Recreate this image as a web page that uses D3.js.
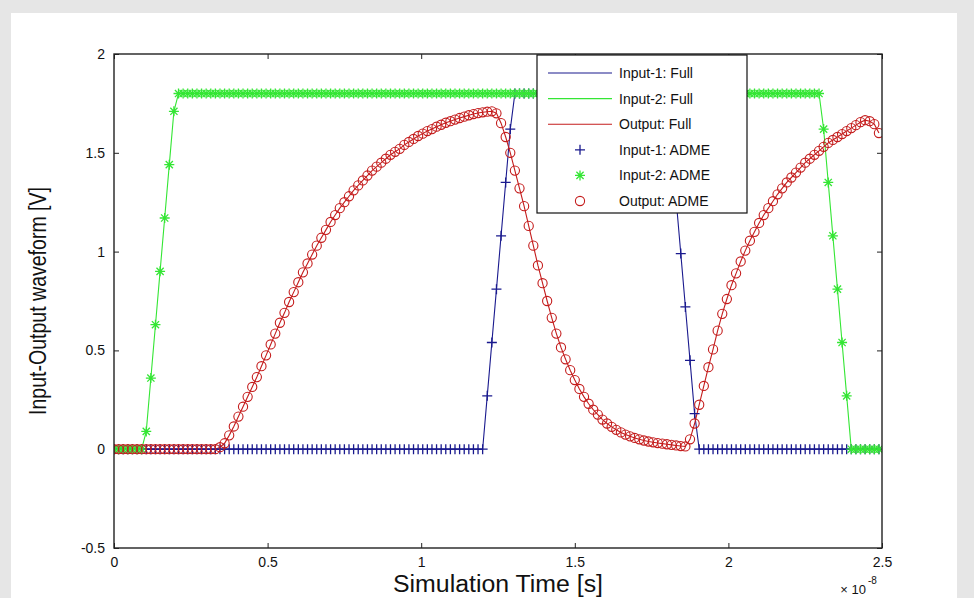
<!DOCTYPE html>
<html>
<head>
<meta charset="utf-8">
<script src="https://cdn.jsdelivr.net/npm/d3@7"></script>
<style>
  body { margin: 0; background: #e6e6e6; }
  svg { display: block; }
</style>
</head>
<body>
<svg id="chart" width="974" height="598"></svg>
<script>
// Simulation sample instants, in units of 1e-8 s
const timeSamples = [
  0, 0.015, 0.03, 0.045, 0.06, 0.075, 0.09, 0.105, 0.12, 0.135,
  0.15, 0.165, 0.18, 0.195, 0.21, 0.225, 0.24, 0.255, 0.27, 0.285,
  0.3, 0.315, 0.33, 0.345, 0.36, 0.375, 0.39, 0.405, 0.42, 0.435,
  0.45, 0.465, 0.48, 0.495, 0.51, 0.525, 0.54, 0.555, 0.57, 0.585,
  0.6, 0.615, 0.63, 0.645, 0.66, 0.675, 0.69, 0.705, 0.72, 0.735,
  0.75, 0.765, 0.78, 0.795, 0.81, 0.825, 0.84, 0.855, 0.87, 0.885,
  0.9, 0.915, 0.93, 0.945, 0.96, 0.975, 0.99, 1.005, 1.02, 1.035,
  1.05, 1.065, 1.08, 1.095, 1.11, 1.125, 1.14, 1.155, 1.17, 1.185,
  1.2, 1.215, 1.23, 1.245, 1.26, 1.275, 1.29, 1.305, 1.32, 1.335,
  1.35, 1.365, 1.38, 1.395, 1.41, 1.425, 1.44, 1.455, 1.47, 1.485,
  1.5, 1.515, 1.53, 1.545, 1.56, 1.575, 1.59, 1.605, 1.62, 1.635,
  1.65, 1.665, 1.68, 1.695, 1.71, 1.725, 1.74, 1.755, 1.77, 1.785,
  1.8, 1.815, 1.83, 1.845, 1.86, 1.875, 1.89, 1.905, 1.92, 1.935,
  1.95, 1.965, 1.98, 1.995, 2.01, 2.025, 2.04, 2.055, 2.07, 2.085,
  2.1, 2.115, 2.13, 2.145, 2.16, 2.175, 2.19, 2.205, 2.22, 2.235,
  2.25, 2.265, 2.28, 2.295, 2.31, 2.325, 2.34, 2.355, 2.37, 2.385,
  2.4, 2.415, 2.43, 2.445, 2.46, 2.475, 2.49
];

// Input-1 waveform [V]
const input1 = [
  0, 0, 0, 0, 0, 0, 0, 0, 0, 0,
  0, 0, 0, 0, 0, 0, 0, 0, 0, 0,
  0, 0, 0, 0, 0, 0, 0, 0, 0, 0,
  0, 0, 0, 0, 0, 0, 0, 0, 0, 0,
  0, 0, 0, 0, 0, 0, 0, 0, 0, 0,
  0, 0, 0, 0, 0, 0, 0, 0, 0, 0,
  0, 0, 0, 0, 0, 0, 0, 0, 0, 0,
  0, 0, 0, 0, 0, 0, 0, 0, 0, 0,
  0, 0.27, 0.54, 0.81, 1.08, 1.35, 1.62, 1.8, 1.8, 1.8,
  1.8, 1.8, 1.8, 1.8, 1.8, 1.8, 1.8, 1.8, 1.8, 1.8,
  1.8, 1.8, 1.8, 1.8, 1.8, 1.8, 1.8, 1.8, 1.8, 1.8,
  1.8, 1.8, 1.8, 1.8, 1.8, 1.8, 1.8, 1.8, 1.8, 1.8,
  1.8, 1.53, 1.26, 0.99, 0.72, 0.45, 0.18, 0, 0, 0,
  0, 0, 0, 0, 0, 0, 0, 0, 0, 0,
  0, 0, 0, 0, 0, 0, 0, 0, 0, 0,
  0, 0, 0, 0, 0, 0, 0, 0, 0, 0,
  0, 0, 0, 0, 0, 0, 0
];

// Input-2 waveform [V]
const input2 = [
  0, 0, 0, 0, 0, 0, 0, 0.09, 0.36, 0.63,
  0.9, 1.17, 1.44, 1.71, 1.8, 1.8, 1.8, 1.8, 1.8, 1.8,
  1.8, 1.8, 1.8, 1.8, 1.8, 1.8, 1.8, 1.8, 1.8, 1.8,
  1.8, 1.8, 1.8, 1.8, 1.8, 1.8, 1.8, 1.8, 1.8, 1.8,
  1.8, 1.8, 1.8, 1.8, 1.8, 1.8, 1.8, 1.8, 1.8, 1.8,
  1.8, 1.8, 1.8, 1.8, 1.8, 1.8, 1.8, 1.8, 1.8, 1.8,
  1.8, 1.8, 1.8, 1.8, 1.8, 1.8, 1.8, 1.8, 1.8, 1.8,
  1.8, 1.8, 1.8, 1.8, 1.8, 1.8, 1.8, 1.8, 1.8, 1.8,
  1.8, 1.8, 1.8, 1.8, 1.8, 1.8, 1.8, 1.8, 1.8, 1.8,
  1.8, 1.8, 1.8, 1.8, 1.8, 1.8, 1.8, 1.8, 1.8, 1.8,
  1.8, 1.8, 1.8, 1.8, 1.8, 1.8, 1.8, 1.8, 1.8, 1.8,
  1.8, 1.8, 1.8, 1.8, 1.8, 1.8, 1.8, 1.8, 1.8, 1.8,
  1.8, 1.8, 1.8, 1.8, 1.8, 1.8, 1.8, 1.8, 1.8, 1.8,
  1.8, 1.8, 1.8, 1.8, 1.8, 1.8, 1.8, 1.8, 1.8, 1.8,
  1.8, 1.8, 1.8, 1.8, 1.8, 1.8, 1.8, 1.8, 1.8, 1.8,
  1.8, 1.8, 1.8, 1.8, 1.62, 1.35, 1.08, 0.81, 0.54, 0.27,
  0, 0, 0, 0, 0, 0, 0
];

// Output waveform [V]
const output = [
  0, 0, 0, 0, 0, 0, 0, 0, 0, 0,
  0, 0, 0, 0, 0, 0, 0, 0, 0, 0,
  0, 0, 0, 0.01, 0.03, 0.07, 0.115, 0.165, 0.215, 0.265,
  0.315, 0.365, 0.42, 0.475, 0.53, 0.585, 0.64, 0.69, 0.745, 0.795,
  0.845, 0.895, 0.94, 0.985, 1.03, 1.07, 1.11, 1.15, 1.185, 1.22,
  1.25, 1.28, 1.31, 1.335, 1.36, 1.385, 1.41, 1.43, 1.45, 1.47,
  1.49, 1.505, 1.52, 1.54, 1.555, 1.57, 1.585, 1.597, 1.61, 1.62,
  1.632, 1.642, 1.652, 1.66, 1.668, 1.676, 1.683, 1.69, 1.696, 1.701,
  1.705, 1.708, 1.71, 1.70, 1.65, 1.58, 1.50, 1.41, 1.32, 1.23,
  1.13, 1.03, 0.93, 0.84, 0.75, 0.665, 0.585, 0.515, 0.455, 0.40,
  0.35, 0.305, 0.265, 0.23, 0.20, 0.175, 0.15, 0.13, 0.113, 0.098,
  0.085, 0.074, 0.065, 0.057, 0.05, 0.044, 0.039, 0.035, 0.031, 0.028,
  0.025, 0.022, 0.019, 0.016, 0.014, 0.05, 0.13, 0.225, 0.32, 0.415,
  0.505, 0.60, 0.685, 0.76, 0.83, 0.89, 0.95, 1.005, 1.055, 1.10,
  1.145, 1.185, 1.22, 1.255, 1.29, 1.32, 1.35, 1.375, 1.40, 1.425,
  1.45, 1.47, 1.49, 1.51, 1.53, 1.55, 1.565, 1.58, 1.595, 1.61,
  1.625, 1.64, 1.655, 1.665, 1.66, 1.645, 1.60
];

const xTicks = [0, 0.5, 1, 1.5, 2, 2.5];
const xTickLabels = ["0", "0.5", "1", "1.5", "2", "2.5"];
const yTicks = [-0.5, 0, 0.5, 1, 1.5, 2];
const yTickLabels = ["-0.5", "0", "0.5", "1", "1.5", "2"];
const legendLabels = [
  "Input-1: Full", "Input-2: Full", "Output: Full",
  "Input-1: ADME", "Input-2: ADME", "Output: ADME"
];

const blue = "#1a1a8e";
const green = "#34e634";
const red = "#c41c1c";
const font = "'Liberation Sans', Arial, Helvetica, sans-serif";

const svg = d3.select("#chart");

// figure background: white panel inside a light grey frame
svg.append("rect").attr("width", 974).attr("height", 598).attr("fill", "#e6e6e6");
svg.append("rect").attr("x", 11).attr("y", 13).attr("width", 946).attr("height", 585).attr("fill", "#ffffff");

const x = d3.scaleLinear().domain([0, 2.5]).range([114, 882]);
const y = d3.scaleLinear().domain([-0.5, 2]).range([548, 54]);

svg.append("defs").append("clipPath").attr("id", "plotClip")
  .append("rect")
  .attr("x", x(0)).attr("y", y(2))
  .attr("width", x(2.5) - x(0)).attr("height", y(-0.5) - y(2));

// axes with inward ticks on all four sides
function styleAxis(g) {
  g.select(".domain").remove();
  g.selectAll("line").attr("stroke", "#222").attr("stroke-width", 1);
  g.selectAll("text").attr("font-family", font).attr("font-size", 14).attr("fill", "#111");
}
svg.append("g").attr("transform", `translate(0,${y(-0.5)})`)
  .call(d3.axisBottom(x).tickValues(xTicks).tickFormat((d, i) => xTickLabels[i]).tickSize(-5).tickPadding(9))
  .call(styleAxis);
svg.append("g").attr("transform", `translate(0,${y(2)})`)
  .call(d3.axisTop(x).tickValues(xTicks).tickFormat("").tickSize(-5))
  .call(styleAxis);
svg.append("g").attr("transform", `translate(${x(0)},0)`)
  .call(d3.axisLeft(y).tickValues(yTicks).tickFormat((d, i) => yTickLabels[i]).tickSize(-5).tickPadding(9))
  .call(styleAxis);
svg.append("g").attr("transform", `translate(${x(2.5)},0)`)
  .call(d3.axisRight(y).tickValues(yTicks).tickFormat("").tickSize(-5))
  .call(styleAxis);

// waveforms
const plot = svg.append("g").attr("clip-path", "url(#plotClip)");
const series = [
  { values: input1, color: blue, marker: "plus" },
  { values: input2, color: green, marker: "star" },
  { values: output, color: red, marker: "circle" }
];
const line = d3.line().x(d => x(d[0])).y(d => y(d[1]));

// "Full" solid lines first
series.forEach(s => {
  plot.append("path")
    .datum(timeSamples.map((t, i) => [t, s.values[i]]))
    .attr("d", line)
    .attr("fill", "none")
    .attr("stroke", s.color)
    .attr("stroke-width", 1.1);
});

const plusPath = "M-5,0H5M0,-5V5";
const starPath = "M-5,0H5M0,-5V5M-3.6,-3.6L3.6,3.6M-3.6,3.6L3.6,-3.6";

function drawMarker(g, kind, color) {
  if (kind === "circle") {
    g.append("circle").attr("r", 4.6).attr("fill", "none").attr("stroke", color).attr("stroke-width", 1.1);
  } else {
    g.append("path").attr("d", kind === "plus" ? plusPath : starPath)
      .attr("fill", "none").attr("stroke", color).attr("stroke-width", 1.3);
  }
}

// "ADME" markers on top
series.forEach(s => {
  timeSamples.forEach((t, i) => {
    const g = plot.append("g").attr("transform", `translate(${x(t)},${y(s.values[i])})`);
    drawMarker(g, s.marker, s.color);
  });
});

// plot frame
svg.append("rect")
  .attr("x", x(0)).attr("y", y(2))
  .attr("width", x(2.5) - x(0)).attr("height", y(-0.5) - y(2))
  .attr("fill", "none").attr("stroke", "#222").attr("stroke-width", 1.4);

// legend
const legend = svg.append("g").attr("transform", "translate(537,55)");
legend.append("rect").attr("width", 210).attr("height", 158)
  .attr("fill", "#fff").attr("stroke", "#111").attr("stroke-width", 1.2);
legendLabels.forEach((label, i) => {
  const row = legend.append("g").attr("transform", `translate(0,${18 + i * 25.6})`);
  const s = series[i % 3];
  if (i < 3) {
    row.append("line").attr("x1", 11).attr("x2", 75).attr("stroke", s.color).attr("stroke-width", 1.1);
  } else {
    const m = row.append("g").attr("transform", "translate(43,0)");
    drawMarker(m, s.marker, s.color);
  }
  row.append("text").attr("x", 82).attr("y", 5)
    .attr("font-family", font).attr("font-size", 14).attr("fill", "#111")
    .text(label);
});

// axis titles
svg.append("text")
  .attr("x", (x(0) + x(2.5)) / 2).attr("y", 592)
  .attr("text-anchor", "middle")
  .attr("font-family", font).attr("font-size", 23).attr("fill", "#111")
  .attr("textLength", 210).attr("lengthAdjust", "spacingAndGlyphs")
  .text("Simulation Time [s]");

svg.append("text")
  .attr("transform", `translate(46,${(y(2) + y(-0.5)) / 2}) rotate(-90)`)
  .attr("text-anchor", "middle")
  .attr("font-family", font).attr("font-size", 23).attr("fill", "#111")
  .attr("textLength", 228).attr("lengthAdjust", "spacingAndGlyphs")
  .text("Input-Output waveform [V]");

// exponent of the time axis
svg.append("text")
  .attr("x", 866).attr("y", 594).attr("text-anchor", "end")
  .attr("font-family", font).attr("font-size", 13).attr("fill", "#111")
  .text("× 10");
svg.append("text")
  .attr("x", 868).attr("y", 584)
  .attr("font-family", font).attr("font-size", 10).attr("fill", "#111")
  .text("-8");
</script>
</body>
</html>
